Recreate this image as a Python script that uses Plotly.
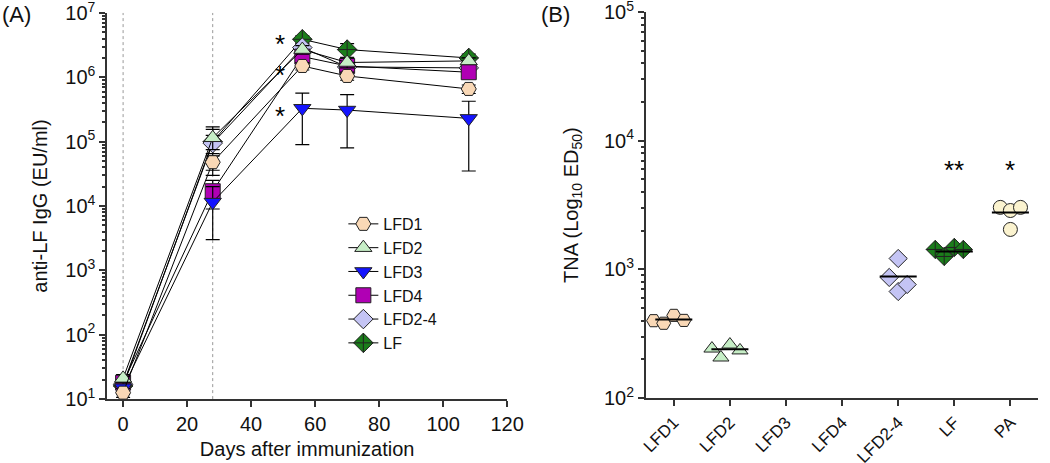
import plotly.graph_objects as go

# Panel A: anti-LF IgG titres over time (mean +/- SD)
days = [0, 28, 56, 70, 108]
groups_a = ["LFD1", "LFD2", "LFD3", "LFD4", "LFD2-4", "LF"]
igg_mean = {
    "LFD1": [12.6, 4.8e4, 1.5e6, 1.05e6, 6.6e5],
    "LFD2": [21, 1.15e5, 2.7e6, 1.7e6, 1.8e6],
    "LFD3": [15, 1.15e4, 3.3e5, 3.1e5, 2.3e5],
    "LFD4": [18, 1.7e4, 2.1e6, 1.5e6, 1.2e6],
    "LFD2-4": [17, 9.5e4, 2.9e6, 1.45e6, 1.4e6],
    "LF": [16, 1.0e5, 3.9e6, 2.7e6, 2.0e6],
}
igg_sd = {
    "LFD1": [2, 1.2e4, 2e5, 1.5e5, 1e5],
    "LFD2": [3, 4e4, 4e5, 3e5, 2e5],
    "LFD3": [3, 8.5e3, 2.4e5, 2.3e5, 1.95e5],
    "LFD4": [3, 8e3, 3e5, 2e5, 1.5e5],
    "LFD2-4": [3, 3e4, 4e5, 2e5, 2e5],
    "LF": [3, 7e4, 5e5, 6.5e5, 3e5],
}

# Panel B: toxin neutralising antibody, individual animals + median
groups_b = ["LFD1", "LFD2", "LFD3", "LFD4", "LFD2-4", "LF", "PA"]
tna_values = {
    "LFD1": [400, 382, 440, 402],
    "LFD2": [243, 207, 261, 235],
    "LFD2-4": [867, 1217, 674, 764],
    "LF": [1430, 1262, 1483, 1430],
    "PA": [3036, 2870, 3036, 2046],
}
tna_median = {"LFD1": 409, "LFD2": 240, "LFD2-4": 883, "LF": 1380, "PA": 2775}

FONT = "Liberation Sans, Arial, sans-serif"

styles = {
    "LFD1": dict(symbol="hexagon2", color="#f9d8b6"),
    "LFD2": dict(symbol="triangle-up", color="#c6eec6"),
    "LFD3": dict(symbol="triangle-down", color="#1414ff"),
    "LFD4": dict(symbol="square", color="#b000b4"),
    "LFD2-4": dict(symbol="diamond", color="#c4c4f4"),
    "LF": dict(symbol="diamond-cross", color="#1b7d1b"),
    "PA": dict(symbol="circle", color="#fbf3cf"),
}
jitter = {
    "LFD1": [-0.36, -0.18, 0.0, 0.18],
    "LFD2": [-0.32, -0.16, 0.0, 0.18],
    "LFD2-4": [-0.16, 0.0, 0.0, 0.16],
    "LF": [-0.34, -0.18, 0.0, 0.16],
    "PA": [-0.18, 0.0, 0.18, 0.0],
}

fig = go.Figure()

# Prism draws the first data set on top, so add traces in reverse
for g in reversed(groups_a):
    st = styles[g]
    fig.add_trace(go.Scatter(
        x=days, y=igg_mean[g], name=g, mode="lines+markers",
        line=dict(color="black", width=1),
        marker=dict(symbol=st["symbol"], size=15, color=st["color"],
                    line=dict(color="#222222", width=1)),
        error_y=dict(type="data", array=igg_sd[g], color="black",
                     thickness=1.2, width=7),
        xaxis="x", yaxis="y",
    ))

for i, g in enumerate(groups_b):
    if g not in tna_values:
        continue
    st = styles[g]
    fig.add_trace(go.Scatter(
        x=[i + j for j in jitter[g]], y=tna_values[g], mode="markers",
        marker=dict(symbol=st["symbol"], size=14, color=st["color"],
                    line=dict(color="#222222", width=1)),
        showlegend=False, xaxis="x2", yaxis="y2",
    ))
    fig.add_trace(go.Scatter(
        x=[i - 0.33, i + 0.33], y=[tna_median[g]] * 2, mode="lines",
        line=dict(color="black", width=2),
        showlegend=False, xaxis="x2", yaxis="y2",
    ))

def log_ticks(lo, hi):
    vals = [10 ** p for p in range(lo, hi + 1)]
    text = ["10<sup>%d</sup>" % p for p in range(lo, hi + 1)]
    minor = [m * 10 ** p for p in range(lo, hi) for m in range(2, 10)]
    return vals, text, minor

va, ta, ma = log_ticks(1, 7)
vb, tb, mb = log_ticks(2, 5)

axis_common = dict(showgrid=False, zeroline=False, showline=True,
                   linecolor="#333333", linewidth=1.5, ticks="outside",
                   tickcolor="#333333", tickwidth=1.5, ticklen=6,
                   ticklabeloverflow="allow", automargin=False,
                   tickfont=dict(size=20, color="#111111"))

fig.update_layout(
    width=1050, height=463,
    margin=dict(l=0, r=0, t=0, b=0),
    paper_bgcolor="white", plot_bgcolor="white",
    font=dict(family=FONT, color="#111111"),
    xaxis=dict(domain=[0.102, 0.483], range=[-5, 120], tickvals=[0, 20, 40, 60, 80, 100, 120],
               title=dict(text="Days after immunization", font=dict(size=20), standoff=8),
               anchor="y", **axis_common),
    yaxis=dict(domain=[0.138, 0.972], type="log", range=[1, 7],
               tickvals=va, ticktext=ta,
               minor=dict(tickvals=ma, ticks="outside", ticklen=3, tickcolor="#333333"),
               title=dict(text="anti-LF IgG (EU/ml)", font=dict(size=20), standoff=12),
               anchor="x", **axis_common),
    xaxis2=dict(domain=[0.615, 0.989], range=[-0.5, 6.5],
                tickvals=list(range(len(groups_b))), ticktext=groups_b, tickangle=-45,
                anchor="y2", **{**axis_common, "tickfont": dict(size=17, color="#111111")}),
    yaxis2=dict(domain=[0.14, 0.974], type="log", range=[2, 5],
                tickvals=vb, ticktext=tb,
                minor=dict(tickvals=mb, ticks="outside", ticklen=3, tickcolor="#333333"),
                title=dict(text="TNA (Log<sub>10</sub> ED<sub>50</sub>)", font=dict(size=20), standoff=20),
                anchor="x2", **axis_common),
    legend=dict(x=0.327, y=0.553, xanchor="left", yanchor="top",
                traceorder="reversed", font=dict(size=16),
                bgcolor="rgba(0,0,0,0)", itemwidth=30),
    showlegend=True,
)

# vertical dotted lines at the immunization days
for d in [0, 28]:
    fig.add_shape(type="line", x0=d, x1=d, y0=0, y1=1, xref="x", yref="y domain",
                  line=dict(color="#999999", width=1, dash="dot"), layer="below")

# significance marks
stars = [
    dict(x=49, y=6.58, text="*", xref="x", yref="y"),
    dict(x=49, y=6.10, text="*", xref="x", yref="y"),
    dict(x=49, y=5.46, text="*", xref="x", yref="y"),
    dict(x=5, y=3.80, text="**", xref="x2", yref="y2"),
    dict(x=6, y=3.80, text="*", xref="x2", yref="y2"),
]
for s in stars:
    fig.add_annotation(showarrow=False, font=dict(size=26, color="black"), yshift=-4, **s)

fig.add_annotation(x=0.0, y=1.0, xref="paper", yref="paper", text="(A)", showarrow=False,
                   xanchor="left", yanchor="top", font=dict(size=22))
fig.add_annotation(x=0.513, y=1.0, xref="paper", yref="paper", text="(B)", showarrow=False,
                   xanchor="left", yanchor="top", font=dict(size=22))

# drop the default 8px body margin so the figure fills the window exactly
fig.write_html("out.html", config={"displayModeBar": False},
               post_script="document.body.style.margin = '0';")
